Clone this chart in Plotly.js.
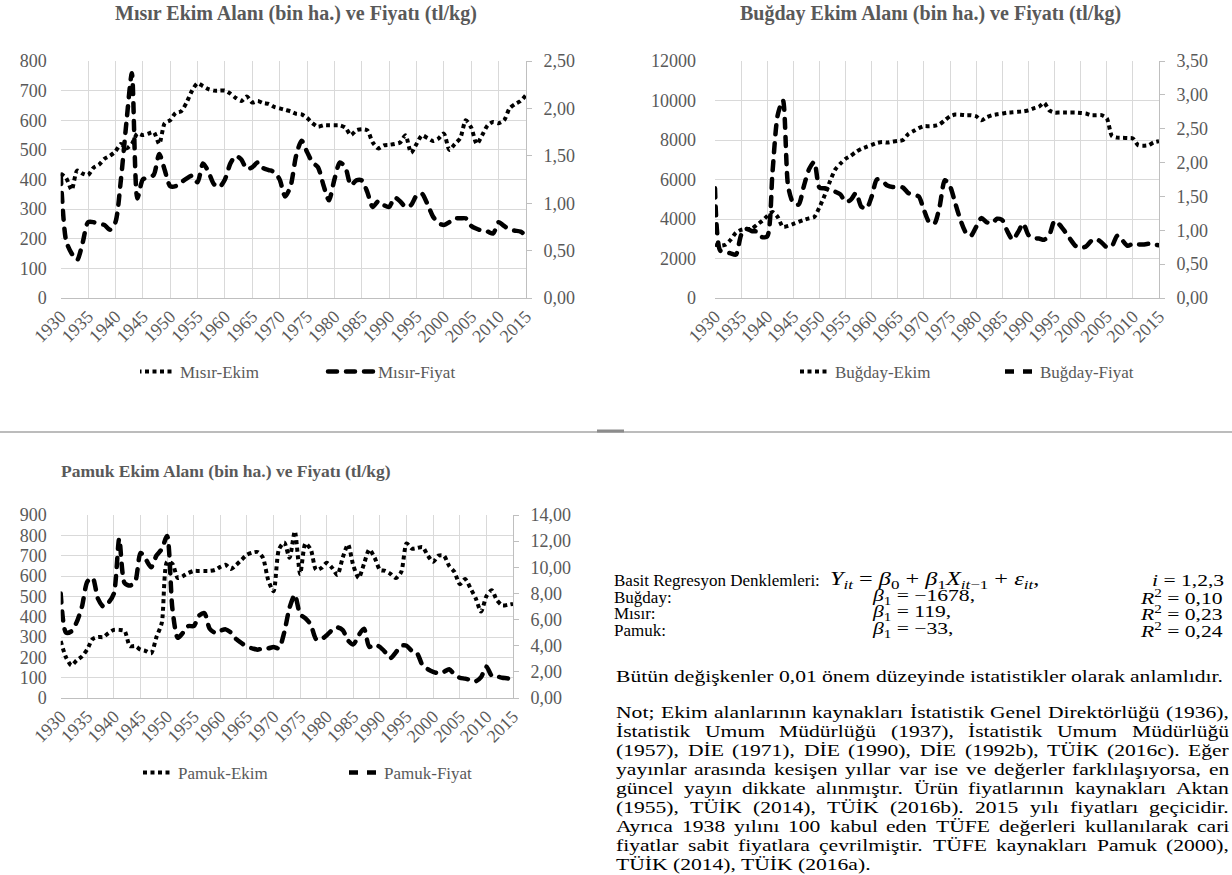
<!DOCTYPE html>
<html>
<head>
<meta charset="utf-8">
<script src="https://cdn.plot.ly/plotly-3.0.1.min.js"></script>
<style>
html,body{margin:0;padding:0;background:#ffffff;}
#chart{width:1232px;height:875px;}
</style>
</head>
<body>
<div id="chart"></div>
<script>
// ---------------- DATA ----------------
const years = [1930,1931,1932,1933,1934,1935,1936,1937,1938,1939,
1940,1941,1942,1943,1944,1945,1946,1947,1948,1949,
1950,1951,1952,1953,1954,1955,1956,1957,1958,1959,
1960,1961,1962,1963,1964,1965,1966,1967,1968,1969,
1970,1971,1972,1973,1974,1975,1976,1977,1978,1979,
1980,1981,1982,1983,1984,1985,1986,1987,1988,1989,
1990,1991,1992,1993,1994,1995,1996,1997,1998,1999,
2000,2001,2002,2003,2004,2005,2006,2007,2008,2009,
2010,2011,2012,2013,2014,2015];

const tickYears = [1930,1935,1940,1945,1950,1955,1960,1965,1970,1975,1980,1985,1990,1995,2000,2005,2010,2015];

// Mısır (corn): sown area (bin ha.) and price (tl/kg)
const misirEkim = [420,405,365,430,420,415,440,450,470,480,
495,520,505,520,555,550,555,560,520,590,
600,625,630,660,700,725,715,705,700,700,
700,690,675,665,680,660,665,658,655,645,
640,635,630,622,620,608,590,578,583,583,
583,583,575,550,566,570,566,525,505,515,
517,520,525,549,490,520,549,540,530,538,
555,500,520,540,600,575,520,550,583,594,
590,600,640,655,665,685];
const misirFiyat = [1.30,0.60,0.47,0.40,0.58,0.80,0.80,0.78,0.77,0.72,
0.80,1.25,1.85,2.37,1.05,1.25,1.27,1.30,1.52,1.35,
1.18,1.18,1.22,1.26,1.29,1.22,1.42,1.33,1.20,1.17,
1.25,1.42,1.50,1.46,1.36,1.38,1.43,1.37,1.35,1.33,
1.25,1.07,1.18,1.50,1.66,1.54,1.43,1.38,1.19,1.03,
1.25,1.43,1.38,1.19,1.24,1.24,1.12,0.96,1.02,0.98,
0.96,1.06,1.02,0.96,0.98,1.08,1.10,0.99,0.86,0.79,
0.77,0.80,0.84,0.84,0.84,0.76,0.73,0.71,0.70,0.68,
0.80,0.76,0.72,0.71,0.70,0.66];

// Buğday (wheat)
const bugdayEkim = [2700,2650,2700,2950,3300,3450,3500,3500,3700,3900,
4150,4350,4100,3600,3650,3750,3850,3950,4030,4100,
4600,5200,5900,6500,6800,7050,7200,7400,7550,7650,
7750,7850,7900,7870,7920,7950,8000,8300,8450,8600,
8700,8700,8720,8800,9000,9200,9290,9280,9256,9256,
9200,9000,9150,9250,9300,9340,9390,9400,9425,9450,
9500,9600,9680,9880,9500,9390,9390,9390,9390,9390,
9370,9340,9256,9256,9256,9100,8200,8120,8110,8100,
8080,7740,7710,7740,7880,7940];
const bugdayFiyat = [1.62,0.70,0.68,0.66,0.64,0.93,1.02,0.99,0.98,0.90,
0.91,1.85,2.70,2.92,1.65,1.40,1.38,1.65,1.90,2.01,
1.63,1.62,1.60,1.57,1.53,1.42,1.45,1.55,1.35,1.32,
1.50,1.75,1.73,1.66,1.64,1.64,1.63,1.55,1.52,1.50,
1.30,1.12,1.10,1.35,1.74,1.65,1.40,1.15,0.97,0.92,
1.05,1.18,1.12,1.10,1.17,1.15,0.98,0.86,0.97,1.10,
0.93,0.88,0.88,0.86,0.93,1.14,1.08,0.98,0.87,0.77,
0.74,0.76,0.84,0.87,0.82,0.75,0.77,0.92,0.85,0.77,
0.80,0.79,0.79,0.80,0.79,0.78];

// Pamuk (cotton)
const pamukEkim = [280,200,160,185,205,240,290,300,300,320,
335,335,330,255,255,238,231,220,300,370,
670,660,590,600,615,625,625,625,625,630,
645,655,635,655,680,705,715,718,690,580,
525,730,765,690,820,610,760,730,630,640,
665,640,605,690,755,650,590,660,730,690,
630,625,610,590,620,760,735,738,742,700,
670,700,700,650,620,560,585,540,490,425,
500,530,480,455,458,463];
const pamukFiyat = [8.0,5.0,5.1,5.8,7.0,8.9,9.2,7.6,7.0,7.3,
8.0,12.2,8.8,8.6,8.9,11.1,10.6,10.0,10.9,11.4,
12.4,6.8,4.6,5.0,5.5,5.5,6.3,6.5,5.3,5.0,
5.15,5.25,5.0,4.5,4.2,3.9,3.8,3.7,3.8,3.8,
3.9,3.8,5.0,6.9,7.9,6.4,6.1,5.6,4.5,4.5,
4.8,5.2,5.4,5.2,4.4,4.1,4.8,5.3,3.9,4.1,
3.9,3.5,3.05,3.5,4.0,4.0,3.6,3.4,2.5,2.2,
2.0,1.9,2.0,2.2,1.8,1.55,1.48,1.38,1.28,1.6,
2.4,1.7,1.65,1.55,1.5,1.38];

const chartTitles = ["Mısır Ekim Alanı (bin ha.) ve Fiyatı (tl/kg)",
                     "Buğday Ekim Alanı (bin ha.) ve Fiyatı (tl/kg)",
                     "Pamuk Ekim Alanı (bin ha.) ve Fiyatı (tl/kg)"];
const seriesNames = [["Mısır-Ekim","Mısır-Fiyat"],["Buğday-Ekim","Buğday-Fiyat"],["Pamuk-Ekim","Pamuk-Fiyat"]];

const regHeader = "Basit Regresyon Denklemleri:";
const regCrops = ["Buğday:","Mısır:","Pamuk:"];
const regBeta = ["−1678","119","−33"];
const regR2 = ["0,10","0,23","0,24"];
const significanceText = "Bütün değişkenler 0,01 önem düzeyinde istatistikler olarak anlamlıdır.";
const noteLines = [
 "Not; Ekim alanlarının kaynakları İstatistik Genel Direktörlüğü (1936),",
 "İstatistik Umum Müdürlüğü (1937), İstatistik Umum Müdürlüğü",
 "(1957), DİE (1971), DİE (1990), DİE (1992b), TÜİK (2016c). Eğer",
 "yayınlar arasında kesişen yıllar var ise ve değerler farklılaşıyorsa, en",
 "güncel yayın dikkate alınmıştır. Ürün fiyatlarının kaynakları Aktan",
 "(1955), TÜİK (2014), TÜİK (2016b). 2015 yılı fiyatları geçicidir.",
 "Ayrıca 1938 yılını 100 kabul eden TÜFE değerleri kullanılarak cari",
 "fiyatlar sabit fiyatlara çevrilmiştir. TÜFE kaynakları Pamuk (2000),",
 "TÜİK (2014), TÜİK (2016a)."
];

// ---------------- LAYOUT HELPERS ----------------
const W = 1232, H = 875;
const px = x => x / W;
const py = y => 1 - y / H;
const SERIF = 'Liberation Serif, Times New Roman, serif';
const GRAY = '#595959';
const tickFont = {family: SERIF, size: 18, color: GRAY};

function xAxis(x0, x1, anchor) {
  return {domain: [px(x0), px(x1)], anchor: anchor, range: [1930, 2015],
    tickvals: tickYears, ticktext: tickYears.map(String), tickangle: -45,
    showgrid: true, gridcolor: '#d9d9d9', gridwidth: 1,
    showline: true, linecolor: '#bfbfbf', linewidth: 1, ticks: '',
    zeroline: false, tickfont: {family: SERIF, size: 18, color: GRAY}};
}
function yLeft(y0, y1, anchor, max, step, standoff) {
  return {domain: [py(y1), py(y0)], anchor: anchor, range: [0, max], tick0: 0, dtick: step,
    tickformat: 'd', showgrid: true, gridcolor: '#d9d9d9', gridwidth: 1,
    zeroline: false, showline: false, ticks: '', ticklabelstandoff: standoff, tickfont: tickFont};
}
function yRight(over, anchor, max, step) {
  return {overlaying: over, side: 'right', anchor: anchor, range: [0, max], tick0: 0, dtick: step,
    tickformat: '.2f', showgrid: false, zeroline: false,
    showline: true, linecolor: '#bfbfbf', linewidth: 1,
    ticks: 'outside', ticklen: 5, tickcolor: '#bfbfbf', ticklabelstandoff: 8, tickfont: tickFont};
}

const dotLine = {color: '#000000', width: 4, dash: '4px,3.5px', shape: 'spline', smoothing: 0.7};
const dashLine = {color: '#000000', width: 4.5, dash: '9px,9px', shape: 'spline', smoothing: 0.7};

const traces = [
  {x: years, y: misirEkim, xaxis: 'x', yaxis: 'y', name: seriesNames[0][0], mode: 'lines', line: dotLine, legend: 'legend'},
  {x: years, y: misirFiyat, xaxis: 'x', yaxis: 'y2', name: seriesNames[0][1], mode: 'lines', line: dashLine, legend: 'legend'},
  {x: years, y: bugdayEkim, xaxis: 'x2', yaxis: 'y3', name: seriesNames[1][0], mode: 'lines', line: dotLine, legend: 'legend2'},
  {x: years, y: bugdayFiyat, xaxis: 'x2', yaxis: 'y4', name: seriesNames[1][1], mode: 'lines', line: dashLine, legend: 'legend2'},
  {x: years, y: pamukEkim, xaxis: 'x3', yaxis: 'y5', name: seriesNames[2][0], mode: 'lines', line: dotLine, legend: 'legend3'},
  {x: years, y: pamukFiyat, xaxis: 'x3', yaxis: 'y6', name: seriesNames[2][1], mode: 'lines', line: dashLine, legend: 'legend3'}
];

function legendAt(x, y, w) {
  return {x: px(x), y: py(y), xanchor: 'left', yanchor: 'middle', orientation: 'h',
    font: {family: SERIF, size: 17, color: GRAY}, bgcolor: 'rgba(0,0,0,0)',
    entrywidth: w, entrywidthmode: 'pixels', traceorder: 'normal', itemwidth: 30};
}

// ---------------- TEXT PANEL ----------------
// The original page text is slightly wide (stretched); it is drawn with this horizontal factor.
const STRETCH = 1.27;
const panelX0 = 616, panelX1 = 1229;
const panelSize = 17;
const canvas = document.createElement('canvas');
const ctx = canvas.getContext('2d');
function measure(t) { ctx.font = panelSize + 'px "Liberation Serif"'; return ctx.measureText(t).width; }
const panelFont = {family: SERIF, size: panelSize, color: '#000000'};
const mathFont = {family: SERIF, size: 18, color: '#000000'};

const widenList = [];   // [annotation index, stretch factor]
function ann(text, x, y, font, xanchor) {
  return {text: text, x: px(x), y: py(y), xref: 'paper', yref: 'paper', xanchor: xanchor || 'left',
    align: xanchor || 'left', yanchor: 'middle', showarrow: false, font: font, borderpad: 0, borderwidth: 0};
}
const annotations = [];
function addText(text, x, y, font, factor) {
  if (factor && factor !== 1) widenList.push([annotations.length, factor]);
  annotations.push(ann(text, x, y, font));
}

annotations.push(ann(chartTitles[0], 296, 13, {family: SERIF, size: 20, color: GRAY, weight: 'bold'}, 'center'));
annotations.push(ann(chartTitles[1], 930, 13, {family: SERIF, size: 20, color: GRAY, weight: 'bold'}, 'center'));
annotations.push(ann(chartTitles[2], 226, 471, {family: SERIF, size: 17.5, color: GRAY, weight: 'bold'}, 'center'));

addText(regHeader, 614, 580, panelFont, 1);
addText('<i>Y</i><sub><i>it</i></sub> = <i>β</i><sub>0</sub> + <i>β</i><sub>1</sub><i>X</i><sub><i>it</i>−1</sub> + <i>ε</i><sub><i>it</i></sub>,', 830, 580, mathFont, 1.35);
addText('<i>i</i> = 1,2,3', 1152, 580, panelFont, STRETCH);
const regRowY = [597, 613, 630];
for (let i = 0; i < 3; i++) {
  addText(regCrops[i], 614, regRowY[i], panelFont, 1);
  addText('<i>β</i><sub>1</sub> = ' + regBeta[i] + ',', 872, regRowY[i], panelFont, STRETCH);
  addText('<i>R</i><sup>2</sup> = ' + regR2[i], 1140, regRowY[i], panelFont, STRETCH);
}
// justified lines, word by word (as in the original document)
function justified(line, y, justify) {
  const words = line.split(' ');
  const widths = words.map(w => measure(w) * STRETCH);
  const total = widths.reduce((a, b) => a + b, 0);
  let gap = measure(' ') * STRETCH;
  if (justify && words.length > 1) gap = Math.max(gap * 0.6, (panelX1 - panelX0 - total) / (words.length - 1));
  let xx = panelX0;
  words.forEach((w, wi) => { addText(w, xx, y, panelFont, STRETCH); xx += widths[wi] + gap; });
}
justified(significanceText, 676, false);
const noteY0 = 712, noteStep = 19;
noteLines.forEach((line, li) => justified(line, noteY0 + li * noteStep, li < noteLines.length - 1));

const layout = {
  width: W, height: H, autosize: false,
  margin: {l: 0, r: 0, t: 0, b: 0, pad: 0},
  paper_bgcolor: '#ffffff', plot_bgcolor: 'rgba(0,0,0,0)',
  separators: ',.',
  font: {family: SERIF, color: GRAY},
  showlegend: true,
  xaxis: xAxis(60.7, 526, 'y'),
  yaxis: yLeft(61, 298, 'x', 800, 100, 13),
  yaxis2: yRight('y', 'x', 2.5, 0.5),
  xaxis2: xAxis(715, 1159, 'y3'),
  yaxis3: yLeft(61, 298, 'x2', 12000, 2000, 18),
  yaxis4: yRight('y3', 'x2', 3.5, 0.5),
  xaxis3: xAxis(60.7, 513, 'y5'),
  yaxis5: yLeft(515, 698, 'x3', 900, 100, 13),
  yaxis6: yRight('y5', 'x3', 14, 2),
  legend: legendAt(140, 372, 153),
  legend2: legendAt(795, 372, 160),
  legend3: legendAt(138, 773, 161),
  shapes: [
    {type: 'line', xref: 'paper', yref: 'paper', x0: 0, x1: 1, y0: py(432), y1: py(432), line: {color: '#a6a6a6', width: 1.5}},
    {type: 'line', xref: 'paper', yref: 'paper', x0: px(597), x1: px(624), y0: py(431), y1: py(431), line: {color: '#8c8c8c', width: 3}}
  ],
  annotations: annotations
};

Plotly.newPlot('chart', traces, layout, {staticPlot: true, displayModeBar: false}).then(gd => {
  // widen the document text like the original (left edge stays in place)
  widenList.forEach(([i, factor]) => {
    const t = gd.querySelector('.annotation[data-index="' + i + '"] .annotation-text');
    if (!t) return;
    const w = t.getComputedTextLength();
    if (w > 0) { t.setAttribute('textLength', (w * factor).toFixed(2)); t.setAttribute('lengthAdjust', 'spacingAndGlyphs'); }
  });
  // longer legend samples, as in the original
  gd.querySelectorAll('.legend .legendlines path').forEach(p => p.setAttribute('d', 'M-10,0h45'));
  // rounded ends on the dashed price lines
  gd.querySelectorAll('.scatterlayer .trace').forEach(g => {
    try {
      const tr = g.__data__[0].trace;
      if (tr.line && tr.line.dash === dashLine.dash) g.querySelectorAll('path.js-line').forEach(p => p.style.strokeLinecap = 'round');
    } catch (e) {}
  });
  gd.querySelectorAll('.legend .traces').forEach(g => {
    try {
      const tr = g.__data__[0].trace;
      if (tr.line && tr.line.dash === dashLine.dash) g.querySelectorAll('.legendlines path').forEach(p => p.style.strokeLinecap = 'round');
    } catch (e) {}
  });
});
</script>
</body>
</html>
